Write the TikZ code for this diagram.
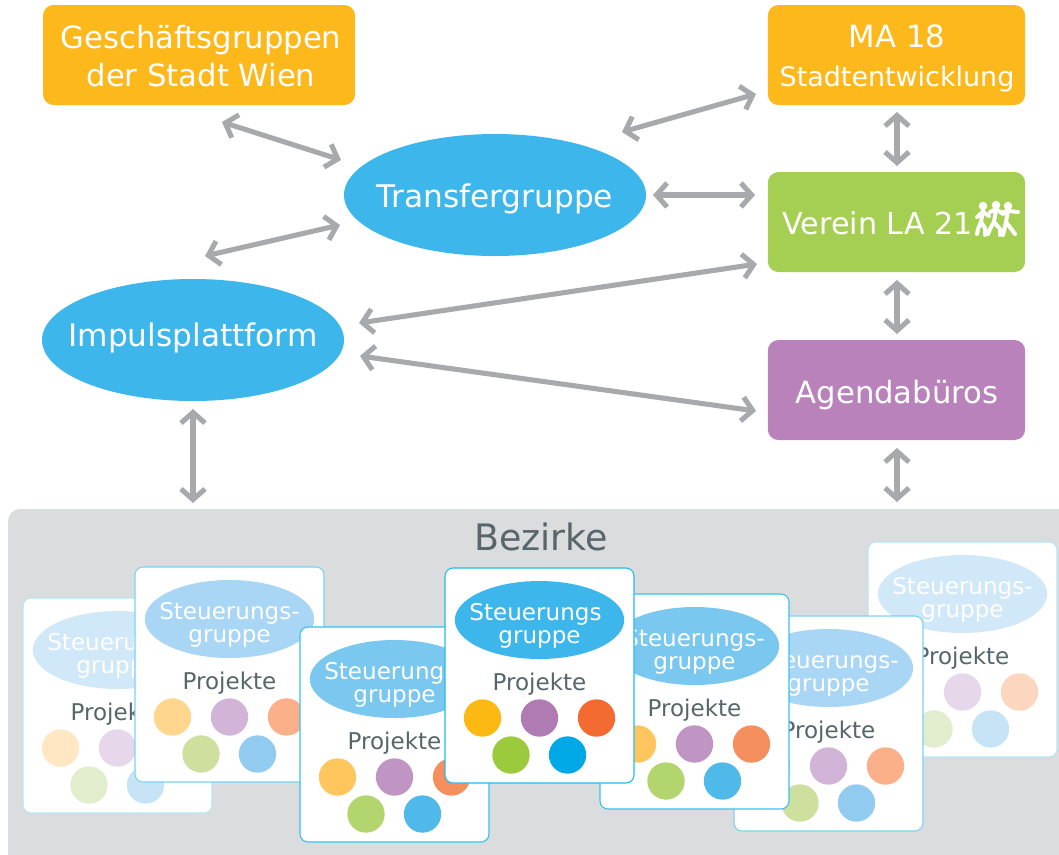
\documentclass[tikz,border=0pt]{standalone}
\usepackage{fontspec}
\setmainfont{DejaVu Sans}
\usetikzlibrary{arrows.meta,shapes.geometric}
\definecolor{gold}{HTML}{FDB81C}
\definecolor{lagreen}{HTML}{A5CF53}
\definecolor{agenda}{HTML}{B982BA}
\definecolor{skyb}{HTML}{3DB7EB}
\definecolor{arrowgrey}{HTML}{A7A9AC}
\definecolor{panel}{HTML}{DBDCDE}
\definecolor{inkgrey}{HTML}{56666B}
\tikzset{
  x=0.75pt,y=-0.75pt,
  box/.style={fill=#1,rounded corners=8pt,inner sep=0pt,text=white,align=center},
  oval/.style={fill=skyb,ellipse,inner sep=0pt,minimum width=226.5pt,minimum height=91.5pt},
  ovaltext/.style={text=white,inner sep=0pt,font=\fontsize{23.4}{23.4}\selectfont},
  arr/.style={draw=arrowgrey,line width=3.8pt,{Straight Barb[length=8pt,width=18pt,line width=3.8pt]}-{Straight Barb[length=8pt,width=18pt,line width=3.8pt]}},
  cardbox/.style={fill=white,draw=#1,line width=0.8pt,rounded corners=6pt},
  dot/.style={circle,minimum size=28pt,inner sep=0pt,fill=#1},
  runner/.style={draw=white,line width=3pt,line cap=round,line join=round},
  cardtext/.style={font=\fontsize{17.3}{17.3}\selectfont},
}
% #1 name, #2 x, #3 y, #4 level prefix, #5 first line, #6 shift
\newcommand{\card}[6]{%
  \path[cardbox=#4b] (#2,#3) rectangle ++(189,215);
  \node[ellipse,fill=#4e,minimum width=127pt,minimum height=58.5pt,inner sep=0pt] (#1e) at (#2+94.5,#3+52) {};
  \node[text=white,cardtext,anchor=base] (#1s) at (#2+94.5+#6,#3+52) {#5};
  \node[text=white,cardtext,anchor=base] (#1g) at (#2+94.5,#3+75.5) {gruppe};
  \node[text=inkgrey,cardtext,anchor=base] (#1p) at (#2+94.5,#3+122) {Projekte};
  \node[dot=#4a] (#1a) at (#2+37.5,#3+150) {};
  \node[dot=#4c] (#1b) at (#2+94.5,#3+150) {};
  \node[dot=#4d] (#1c) at (#2+151.5,#3+150) {};
  \node[dot=#4f] (#1d) at (#2+66,#3+187) {};
  \node[dot=#4g] (#1f) at (#2+122.5,#3+187) {};
}
% levels: a=yellow b=border c=purple d=orange e=ellipse f=green g=blue
\definecolor{Aa}{HTML}{FDB913}\definecolor{Ab}{HTML}{1FBCEE}\definecolor{Ac}{HTML}{B07AB2}\definecolor{Ad}{HTML}{F36B31}\definecolor{Ae}{HTML}{3DB7EB}\definecolor{Af}{HTML}{9BCA3C}\definecolor{Ag}{HTML}{00A9E5}
\definecolor{Ba}{HTML}{FFC65E}\definecolor{Bb}{HTML}{35C2EF}\definecolor{Bc}{HTML}{C094C3}\definecolor{Bd}{HTML}{F68F5E}\definecolor{Be}{HTML}{7AC7EF}\definecolor{Bf}{HTML}{B2D56E}\definecolor{Bg}{HTML}{4FB9EA}
\definecolor{Ca}{HTML}{FFD68E}\definecolor{Cb}{HTML}{7AD3F3}\definecolor{Cc}{HTML}{D2B4D8}\definecolor{Cd}{HTML}{FBB08A}\definecolor{Ce}{HTML}{A8D6F4}\definecolor{Cf}{HTML}{CFE09E}\definecolor{Cg}{HTML}{91CCF0}
\definecolor{Da}{HTML}{FFE7C4}\definecolor{Db}{HTML}{B5E5F8}\definecolor{Dc}{HTML}{E6D7EB}\definecolor{Dd}{HTML}{FDD6C0}\definecolor{De}{HTML}{D1E8F8}\definecolor{Df}{HTML}{E1EDCC}\definecolor{Dg}{HTML}{C7E4F6}
\begin{document}
\begin{tikzpicture}
\useasboundingbox (0,0) rectangle (1059,854);
\fill[white] (0,0) rectangle (1059,854);
\fill[panel,rounded corners=9pt] (8,509) rectangle (1090,890);
\node[text=inkgrey,font=\fontsize{27.3}{27.3}\selectfont] (bez) at (541,537) {Bezirke};
\card{cA}{23}{598}{D}{Steuerungs-}{0}
\card{cG}{868}{542}{D}{Steuerungs-}{0}
\card{cB}{135}{567}{C}{Steuerungs-}{0}
\card{cF}{734}{616}{C}{Steuerungs-}{0}
\card{cC}{300}{627}{B}{Steuerungs-}{0}
\card{cE}{600}{594}{B}{Steuerungs-}{0}
\card{cD}{445}{568}{A}{Steuerungs}{-4}
%
\node[box=gold,minimum width=234pt,minimum height=75pt] (gg) at (199,55) {};
\node[text=white,align=center,font=\fontsize{23}{29}\selectfont] (ggtext) at (201,56) {Geschäftsgruppen\\der Stadt Wien};
\node[box=gold,minimum width=193pt,minimum height=75pt] (ma) at (896.5,55) {};
\node[text=white,font=\fontsize{23}{23}\selectfont,anchor=base] (matext) at (897,47) {MA 18};
\node[text=white,font=\fontsize{20.2}{20.2}\selectfont,anchor=base] (matext2) at (897,86) {Stadtentwicklung};
\node[box=lagreen,minimum width=193pt,minimum height=75pt] (la) at (896.5,222) {};
\node[box=agenda,minimum width=193pt,minimum height=75pt] (ab) at (896.5,390) {};
\node[text=white,font=\fontsize{23}{23}\selectfont,anchor=base] (abtext) at (897,403) {Agendabüros};
\node[text=white,font=\fontsize{22.7}{22.7}\selectfont,anchor=base west,inner sep=0pt] (latext) at (782,234) {Verein LA 21};
% running figures
\fill[white] (983,206) circle (3.2pt) (996,205) circle (3.2pt) (1008,206) circle (3.2pt);
\draw[runner] (983,210)--(981,222) (977,217)--(983,212)--(989,216) (981,222)--(985,228)--(985,235) (981,222)--(978,229)--(977,234);
\draw[runner] (996,209)--(994,222) (990,212)--(996,209)--(1003,214) (994,222)--(1000,229)--(1000,235) (994,222)--(990,229)--(988,234);
\draw[runner] (1008,210)--(1006,222) (1003,212)--(1008,211)--(1018,212) (1006,222)--(1015,234) (1006,222)--(1003,235);
%
\node[oval] (tg) at (495,195) {};
\node[ovaltext] (tgtext) at (495,199) {Transfergruppe};
\node[oval] (ip) at (193,340) {};
\node[ovaltext] (iptext) at (193,338) {Impulsplattform};
%
\coordinate (a1) at (222,122); \coordinate (a2) at (341,160);
\coordinate (b1) at (622,132); \coordinate (b2) at (756,94);
\coordinate (c1) at (205,256); \coordinate (c2) at (340,225);
\coordinate (d1) at (653,195); \coordinate (d2) at (755,195);
\coordinate (e1) at (897,112); \coordinate (e2) at (897,166);
\coordinate (f1) at (897,280); \coordinate (f2) at (897,334);
\coordinate (g1) at (359,323); \coordinate (g2) at (757,264);
\coordinate (h1) at (360,356); \coordinate (h2) at (756,411);
\coordinate (i1) at (193,409); \coordinate (i2) at (193,503);
\coordinate (j1) at (897,448); \coordinate (j2) at (897,502);
\foreach \p in {a,b,c,d,e,f,g,h,i,j}{\draw[arr] (\p1) -- (\p2);}
\end{tikzpicture}
\end{document}
